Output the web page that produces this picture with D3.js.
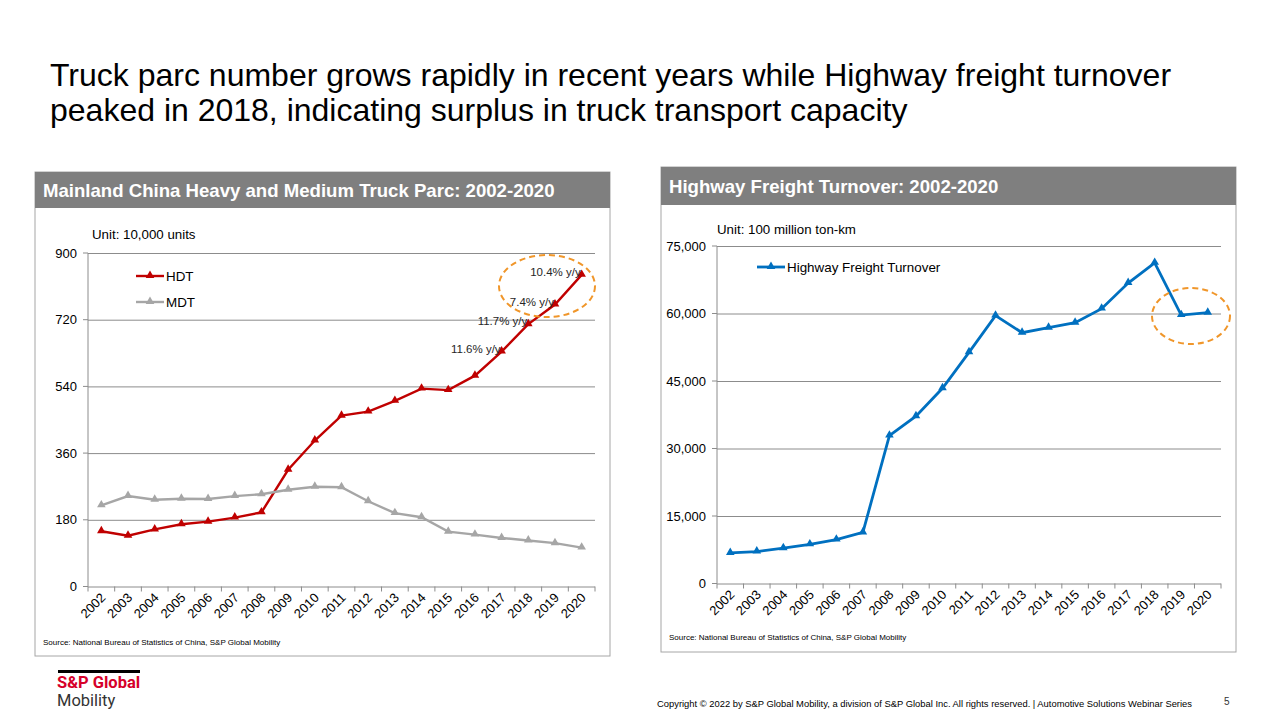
<!DOCTYPE html>
<html><head><meta charset="utf-8">
<script src="https://cdn.jsdelivr.net/npm/d3@7"></script>
<style>
body{margin:0;background:#fff;}
svg{display:block;font-family:"Liberation Sans",Arial,sans-serif;}
</style></head><body>
<svg id="c" width="1280" height="720"></svg>
<script>
const years = ["2002","2003","2004","2005","2006","2007","2008","2009","2010","2011","2012","2013","2014","2015","2016","2017","2018","2019","2020"];
const hdt = [149,137,154,168,175,186,200,315,394,461,472,501,534,530,569,634,708,761,841];
const mdt = [219,244,234,237,236,244,249,261,269,268,230,198,187,148,140,131,124,117,105];
const freight = [6783,7100,7841,8693,9754,11355,32868,37189,43390,51375,59535,55738,56847,57956,61080,66771,71249,59636,60172];
const leftTicks = [0,180,360,540,720,900];
const rightTicks = [0,15000,30000,45000,60000,75000];
const yoyLabels = [["2020","10.4% y/y"],["2019","7.4% y/y"],["2018","11.7% y/y"],["2017","11.6% y/y"]];

const svg = d3.select("#c");

// Title
svg.append("text").attr("x",50).attr("y",86).attr("font-size",32).attr("fill","#000")
  .text("Truck parc number grows rapidly in recent years while Highway freight turnover");
svg.append("text").attr("x",50).attr("y",121).attr("font-size",32).attr("fill","#000")
  .text("peaked in 2018, indicating surplus in truck transport capacity");

function panel(o){
  const g = svg.append("g");
  g.append("rect").attr("x",o.px).attr("y",o.py).attr("width",o.pw).attr("height",o.ph)
    .attr("fill","#fff").attr("stroke","#a6a6a6").attr("stroke-width",1);
  g.append("rect").attr("x",o.px).attr("y",o.py).attr("width",o.pw).attr("height",o.hh).attr("fill","#7f7f7f");
  g.append("text").attr("x",o.px+8).attr("y",o.py+o.hh/2+6.5).attr("font-size",18.6).attr("font-weight","bold")
    .attr("fill","#fff").text(o.title);

  const x = d3.scaleBand().domain(years).range([o.x0,o.x1]);
  const y = d3.scaleLinear().domain([0,o.max]).range([o.y0,o.y1]);

  // grid
  g.append("g").attr("transform",`translate(${o.x0},0)`)
    .call(d3.axisLeft(y).tickValues(o.ticks).tickSize(-(o.x1-o.x0)).tickFormat(o.fmt).tickPadding(11))
    .call(a=>a.select(".domain").remove())
    .call(a=>a.selectAll(".tick line").attr("stroke","#8c8c8c").attr("stroke-width",1))
    .call(a=>a.selectAll(".tick text").attr("font-size",13).attr("fill","#000")
      .attr("font-family","Liberation Sans, Arial, sans-serif"));
  // y axis line with short ticks
  g.append("line").attr("x1",o.x0).attr("x2",o.x0).attr("y1",o.y1).attr("y2",o.y0).attr("stroke","#8c8c8c");
  g.selectAll(".ytk").data(o.ticks).join("line").attr("x1",o.x0-5).attr("x2",o.x0)
    .attr("y1",d=>y(d)).attr("y2",d=>y(d)).attr("stroke","#8c8c8c");

  // x axis
  const bounds = years.map(d=>x(d)).concat([o.x1]);
  g.selectAll(".xtk").data(bounds).join("line").attr("x1",d=>d).attr("x2",d=>d)
    .attr("y1",o.y0).attr("y2",o.y0+5).attr("stroke","#8c8c8c");
  g.selectAll(".xl").data(years).join("text")
    .attr("transform",d=>`translate(${x(d)+x.bandwidth()/2+5},${o.y0+12}) rotate(-45)`)
    .attr("text-anchor","end").attr("font-size",13).attr("fill","#000").text(d=>d);

  // unit
  g.append("text").attr("x",o.ux).attr("y",o.uy).attr("font-size",13.3).attr("fill","#000").text(o.unit);
  // source
  g.append("text").attr("x",o.px+8).attr("y",o.sy).attr("font-size",8).attr("fill","#000")
    .text("Source: National Bureau of Statistics of China, S&P Global Mobility");

  const cx = d=>x(d)+x.bandwidth()/2;
  const tri = d3.symbol().type(d3.symbolTriangle).size(32);
  o.series.forEach(s=>{
    const line = d3.line().x((v,i)=>cx(years[i])).y(v=>y(v));
    g.append("path").datum(s.values).attr("d",line).attr("fill","none")
      .attr("stroke",s.color).attr("stroke-width",s.w);
    g.selectAll(null).data(s.values).join("path")
      .attr("transform",(v,i)=>`translate(${cx(years[i])},${y(v)-0.5})`)
      .attr("d",tri).attr("fill",s.color);
    // legend
    g.append("line").attr("x1",s.lx).attr("x2",s.lx+28).attr("y1",s.ly).attr("y2",s.ly)
      .attr("stroke",s.color).attr("stroke-width",s.w);
    g.append("path").attr("transform",`translate(${s.lx+14},${s.ly-0.5})`).attr("d",tri).attr("fill",s.color);
    g.append("text").attr("x",s.lx+30).attr("y",s.ly+4.8).attr("font-size",13.4).attr("fill","#000").text(s.name);
  });
  return {g,x,y,cx};
}

const L = panel({px:35,py:172,pw:575,ph:484,hh:36,title:"Mainland China Heavy and Medium Truck Parc: 2002-2020",
  x0:88,x1:595,y0:586.5,y1:253,max:900,ticks:leftTicks,fmt:d3.format("d"),
  unit:"Unit: 10,000 units",ux:92,uy:239,sy:645,
  series:[{name:"HDT",values:hdt,color:"#c00000",w:2.4,lx:136,ly:276},
          {name:"MDT",values:mdt,color:"#a6a6a6",w:2.4,lx:136,ly:302}]});

// yoy labels
yoyLabels.forEach(([yr,t])=>{
  const i = years.indexOf(yr);
  L.g.append("text").attr("x",L.cx(yr)-1).attr("y",L.y(hdt[i])+1).attr("text-anchor","end")
    .attr("font-size",11.5).attr("fill","#262626").text(t);
});
L.g.append("ellipse").attr("cx",547).attr("cy",286).attr("rx",48).attr("ry",31)
  .attr("fill","none").attr("stroke","#f0962a").attr("stroke-width",2).attr("stroke-dasharray","6,4");

const R = panel({px:661,py:167,pw:575,ph:485,hh:38,title:"Highway Freight Turnover: 2002-2020",
  x0:717,x1:1221,y0:583.5,y1:246,max:75000,ticks:rightTicks,fmt:d3.format(","),
  unit:"Unit: 100 million ton-km",ux:717,uy:234,sy:640,
  series:[{name:"Highway Freight Turnover",values:freight,color:"#0070c0",w:2.8,lx:757,ly:267}]});
R.g.append("ellipse").attr("cx",1191).attr("cy",316).attr("rx",39).attr("ry",28)
  .attr("fill","none").attr("stroke","#f0962a").attr("stroke-width",2).attr("stroke-dasharray","6,4");

// footer logo
svg.append("rect").attr("x",58).attr("y",670).attr("width",82).attr("height",3).attr("fill","#000");
svg.append("text").attr("x",57).attr("y",688).attr("font-size",16.5).attr("font-weight","bold")
  .attr("font-family","Roboto, Liberation Sans, sans-serif").attr("fill","#d6002a").text("S&P Global");
svg.append("text").attr("x",57).attr("y",706).attr("font-size",16.5)
  .attr("font-family","Roboto, Liberation Sans, sans-serif").attr("fill","#333").text("Mobility");
svg.append("text").attr("x",657).attr("y",707).attr("font-size",9.4).attr("fill","#000")
  .text("Copyright © 2022 by S&P Global Mobility, a division of S&P Global Inc. All rights reserved. | Automotive Solutions Webinar Series");
svg.append("text").attr("x",1224).attr("y",705).attr("font-size",10).attr("fill","#333").text("5");
</script>
</body></html>
